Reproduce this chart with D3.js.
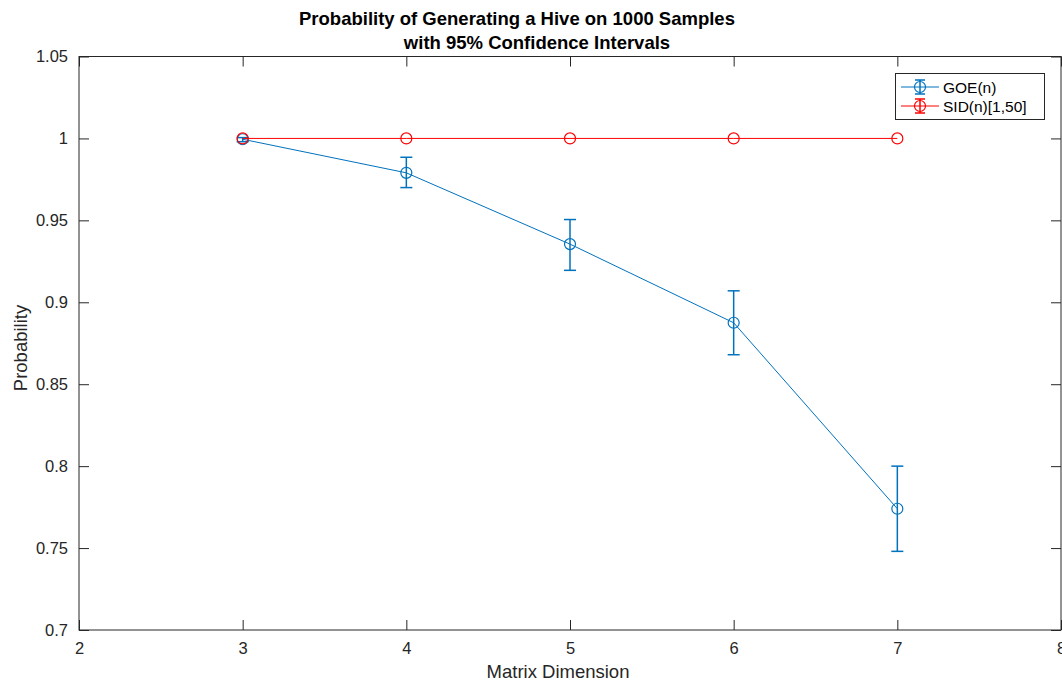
<!DOCTYPE html>
<html><head><meta charset="utf-8">
<script src="https://cdn.jsdelivr.net/npm/d3@7"></script>
<style>body{margin:0;background:#fff;}svg{display:block;font-family:"Liberation Sans",Arial,sans-serif;}</style>
</head><body><svg id="c" width="1062" height="681"></svg>
<script>
const dims = [3, 4, 5, 6, 7];
const goeValues = [0.9995, 0.979, 0.9355, 0.8875, 0.774];
const goeLower = [0.998, 0.970, 0.9195, 0.868, 0.748];
const goeUpper = [1.0005, 0.9885, 0.9505, 0.907, 0.800];
const sidValues = [1, 1, 1, 1, 1];
const sidLower = [1, 1, 1, 1, 1];
const sidUpper = [1, 1, 1, 1, 1];
const xTicks = [2, 3, 4, 5, 6, 7, 8];
const yTicks = [0.7, 0.75, 0.8, 0.85, 0.9, 0.95, 1, 1.05];
const seriesNames = ["GOE(n)", "SID(n)[1,50]"];
const colors = ["#0072BD", "#FF0000"];

const svg = d3.select("#c");
const L = 79, R = 1061, T = 56.5, B = 630;
const x = d3.scaleLinear().domain([2, 8]).range([L, R]);
const y = d3.scaleLinear().domain([0.7, 1.05]).range([B, T]);
const axisColor = "#262626";

svg.append("rect").attr("x", L).attr("y", T).attr("width", R - L).attr("height", B - T)
  .attr("fill", "none").attr("stroke", axisColor).attr("stroke-width", 1);

const fmt = d => String(+d.toFixed(2));
const tl = 10;
const gB = svg.append("g").attr("transform", `translate(0,${B})`)
  .call(d3.axisBottom(x).tickValues(xTicks).tickSize(-tl).tickPadding(12).tickFormat(d3.format("d")));
const gT = svg.append("g").attr("transform", `translate(0,${T})`)
  .call(d3.axisTop(x).tickValues(xTicks).tickSize(-tl).tickFormat(""));
const gL = svg.append("g").attr("transform", `translate(${L},0)`)
  .call(d3.axisLeft(y).tickValues(yTicks).tickSize(-tl).tickPadding(11).tickFormat(fmt));
const gR = svg.append("g").attr("transform", `translate(${R},0)`)
  .call(d3.axisRight(y).tickValues(yTicks).tickSize(-tl).tickFormat(""));
[gB, gT, gL, gR].forEach(g => {
  g.select(".domain").remove();
  g.selectAll("line").attr("stroke", axisColor);
  g.selectAll("text").attr("fill", axisColor).style("font-size", "16.5px")
    .style("font-family", '"Liberation Sans",Arial,sans-serif');
});

function drawSeries(vals, lo, hi, color) {
  const g = svg.append("g");
  const line = d3.line().x((d, i) => x(dims[i])).y(d => y(d));
  g.append("path").datum(vals).attr("d", line).attr("fill", "none").attr("stroke", color).attr("stroke-width", 1);
  dims.forEach((d, i) => {
    const cx = x(d);
    if (hi[i] - lo[i] > 0) {
      g.append("line").attr("x1", cx).attr("x2", cx).attr("y1", y(lo[i])).attr("y2", y(hi[i])).attr("stroke", color).attr("stroke-width", 1.5);
      [lo[i], hi[i]].forEach(v => g.append("line").attr("x1", cx - 6).attr("x2", cx + 6)
        .attr("y1", y(v)).attr("y2", y(v)).attr("stroke", color).attr("stroke-width", 1.5));
    }
    g.append("circle").attr("cx", cx).attr("cy", y(vals[i])).attr("r", 5.5)
      .attr("fill", "none").attr("stroke", color).attr("stroke-width", 1.2);
  });
}
drawSeries(goeValues, goeLower, goeUpper, colors[0]);
drawSeries(sidValues, sidLower, sidUpper, colors[1]);

svg.append("text").attr("x", 517).attr("y", 25).attr("text-anchor", "middle")
  .style("font-weight", "bold").style("font-size", "18.5px").attr("fill", "#000")
  .text("Probability of Generating a Hive on 1000 Samples");
svg.append("text").attr("x", 537).attr("y", 49).attr("text-anchor", "middle")
  .style("font-weight", "bold").style("font-size", "18.5px").attr("fill", "#000")
  .text("with 95% Confidence Intervals");

svg.append("text").attr("x", 558).attr("y", 678).attr("text-anchor", "middle")
  .style("font-size", "18.5px").attr("fill", axisColor).text("Matrix Dimension");
svg.append("text").attr("transform", "translate(27,348) rotate(-90)").attr("text-anchor", "middle")
  .style("font-size", "18.5px").attr("fill", axisColor).text("Probability");

const lg = svg.append("g");
lg.append("rect").attr("x", 895.5).attr("y", 73.5).attr("width", 149).attr("height", 46)
  .attr("fill", "#fff").attr("stroke", axisColor).attr("stroke-width", 1);
seriesNames.forEach((n, i) => {
  const yy = 87 + i * 19;
  const c = colors[i];
  lg.append("line").attr("x1", 901).attr("x2", 939).attr("y1", yy).attr("y2", yy).attr("stroke", c);
  lg.append("line").attr("x1", 920).attr("x2", 920).attr("y1", yy - 7).attr("y2", yy + 7).attr("stroke", c).attr("stroke-width", 1.5);
  [yy - 7, yy + 7].forEach(v => lg.append("line").attr("x1", 915).attr("x2", 925).attr("y1", v).attr("y2", v).attr("stroke", c).attr("stroke-width", 1.5));
  lg.append("circle").attr("cx", 920).attr("cy", yy).attr("r", 5.5).attr("fill", "none").attr("stroke", c).attr("stroke-width", 1.2);
  lg.append("text").attr("x", 943).attr("y", yy + 5.5).style("font-size", "15.5px").attr("fill", "#000").text(n);
});
</script></body></html>
